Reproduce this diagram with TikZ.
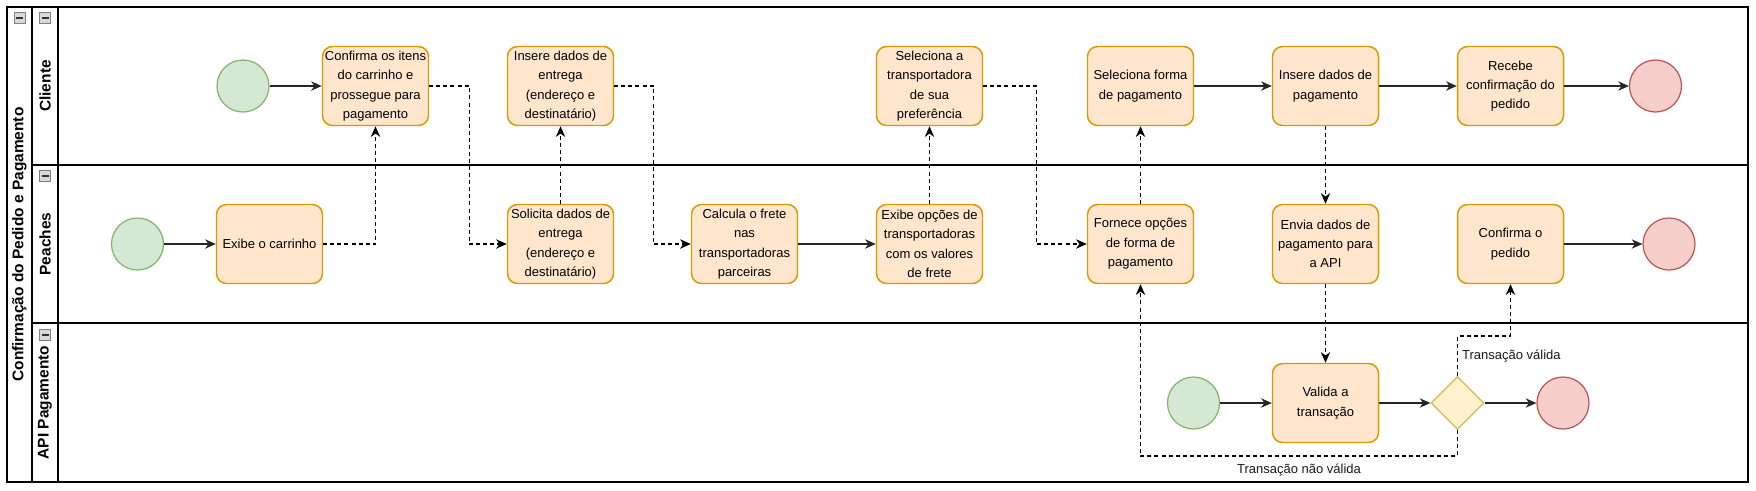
\documentclass[tikz,border=0pt]{standalone}
\usepackage{fontspec}
\setmainfont{Liberation Sans}
\usetikzlibrary{arrows.meta,shapes.geometric}

\definecolor{tarFill}{HTML}{FFE6CC}
\definecolor{tarLine}{HTML}{D79B00}
\definecolor{iniFill}{HTML}{D5E8D4}
\definecolor{iniLine}{HTML}{82B366}
\definecolor{fimFill}{HTML}{F8CECC}
\definecolor{fimLine}{HTML}{B85450}
\definecolor{decFill}{HTML}{FFF2CC}
\definecolor{decLine}{HTML}{D6B656}

\begin{document}
\begin{tikzpicture}[x=0.75pt, y=-0.75pt,
  txt/.style={font=\fontsize{9.75}{14.5}\selectfont, align=center},
  tarefa/.style={txt, draw=tarLine, fill=tarFill, line width=1.1pt,
    rounded corners=7.5pt, minimum width=79.5pt, minimum height=59.25pt, inner sep=1pt},
  inicio/.style={circle, draw=iniLine, fill=iniFill, line width=0.9pt, minimum size=39pt},
  fim/.style={circle, draw=fimLine, fill=fimFill, line width=0.9pt, minimum size=39pt},
  decisao/.style={diamond, aspect=1, draw=decLine, fill=decFill, line width=0.9pt,
    minimum size=39.75pt, inner sep=0pt},
  fluxo/.style={draw=black!85, line width=1pt, -{Stealth[length=8pt, width=7pt, inset=2.5pt]}},
  msg/.style={fluxo, draw=black, dash pattern=on 3pt off 2.3pt},
  raia/.style={font=\fontsize{11.6}{14}\selectfont\bfseries, rotate=90},
  rot/.style={txt, text=black!90, inner sep=3pt}]
  \useasboundingbox (0,0) rectangle (1756,490);

  % pool e raias
  \draw[line width=1.5pt] (6.5,7) rectangle (1748,482)
    (32,7) -- (32,482) (58,7) -- (58,482)
    (32,165) -- (1748,165) (32,323) -- (1748,323);
  \node[raia] (pool) at (19.5,244.5) {Confirmação do Pedido e Pagamento};
  \node[raia] (cli) at (45,86) {Cliente};
  \node[raia] (pea) at (45,244) {Peaches};
  \node[raia] (api) at (45,402.5) {API Pagamento};
  \foreach \px/\py in {19.5/18, 45/18, 45/176, 45/335} {
    \draw[draw=black!50, fill=black!15, line width=0.5pt]
      (\px-5.5,\py-5.5) rectangle (\px+5.5,\py+5.5);
    \draw[black!80, line width=1pt] (\px-3.5,\py) -- (\px+3.5,\py);
  }

  % Cliente
  \node[inicio] (ini1) at (243,86) {};
  \node[tarefa] (conf) at (375.5,86) {Confirma os itens\\do carrinho e\\prossegue para\\pagamento};
  \node[tarefa] (insEnt) at (560.5,86) {Insere dados de\\entrega\\(endereço e\\destinatário)};
  \node[tarefa] (selTr) at (929.5,86) {Seleciona a\\transportadora\\de sua\\preferência};
  \node[tarefa] (selFo) at (1140.5,86) {Seleciona forma\\de pagamento};
  \node[tarefa] (insPag) at (1325.5,86) {Insere dados de\\pagamento};
  \node[tarefa] (receb) at (1510.5,86) {Recebe\\confirmação do\\pedido};
  \node[fim] (fim1) at (1655.5,86) {};

  % Peaches
  \node[inicio] (ini2) at (137.5,244) {};
  \node[tarefa] (exib) at (269.5,244) {Exibe o carrinho};
  \node[tarefa] (solic) at (560.5,244) {Solicita dados de\\entrega\\(endereço e\\destinatário)};
  \node[tarefa] (calc) at (744.5,244) {Calcula o frete\\nas\\transportadoras\\parceiras};
  \node[tarefa] (exOp) at (929.5,244) {Exibe opções de\\transportadoras\\com os valores\\de frete};
  \node[tarefa] (forn) at (1140.5,244) {Fornece opções\\de forma de\\pagamento};
  \node[tarefa] (envia) at (1325.5,244) {Envia dados de\\pagamento para\\a API};
  \node[tarefa] (confP) at (1510.5,244) {Confirma o\\pedido};
  \node[fim] (fim2) at (1669,244) {};

  % API Pagamento
  \node[inicio] (ini3) at (1193.5,403) {};
  \node[tarefa] (valida) at (1325.5,403) {Valida a\\transação};
  \node[decisao] (dec) at (1457.5,403) {};
  \node[fim] (fim3) at (1563,403) {};

  % fluxos
  \draw[fluxo] (ini1) -- (conf);
  \draw[fluxo] (ini2) -- (exib);
  \draw[fluxo] (calc) -- (exOp);
  \draw[fluxo] (selFo) -- (insPag);
  \draw[fluxo] (insPag) -- (receb);
  \draw[fluxo] (receb) -- (fim1);
  \draw[fluxo] (confP.east) -- (fim2);
  \draw[fluxo] (ini3) -- (valida);
  \draw[fluxo] (valida) -- (dec);
  \draw[fluxo] (dec) -- (fim3);

  % mensagens
  \draw[msg] (exib.east) -| (conf.south);
  \draw[msg] (conf.east) -- ++(40,0) |- (solic.west);
  \draw[msg] (solic) -- (insEnt);
  \draw[msg] (insEnt.east) -- ++(39,0) |- (calc.west);
  \draw[msg] (exOp) -- (selTr);
  \draw[msg] (selTr.east) -- ++(53,0) |- (forn.west);
  \draw[msg] (forn) -- (selFo);
  \draw[msg] (insPag) -- (envia);
  \draw[msg] (envia) -- (valida);
  \draw[msg] (dec.north) -- node[rot, anchor=west] {Transação válida} ++(0,-40)
    -| (confP.south);
  \draw[msg] (dec.south) -- ++(0,26)
    -| node[rot, pos=0.25, below, inner sep=5pt] {Transação não válida} (forn.south);
\end{tikzpicture}
\end{document}
